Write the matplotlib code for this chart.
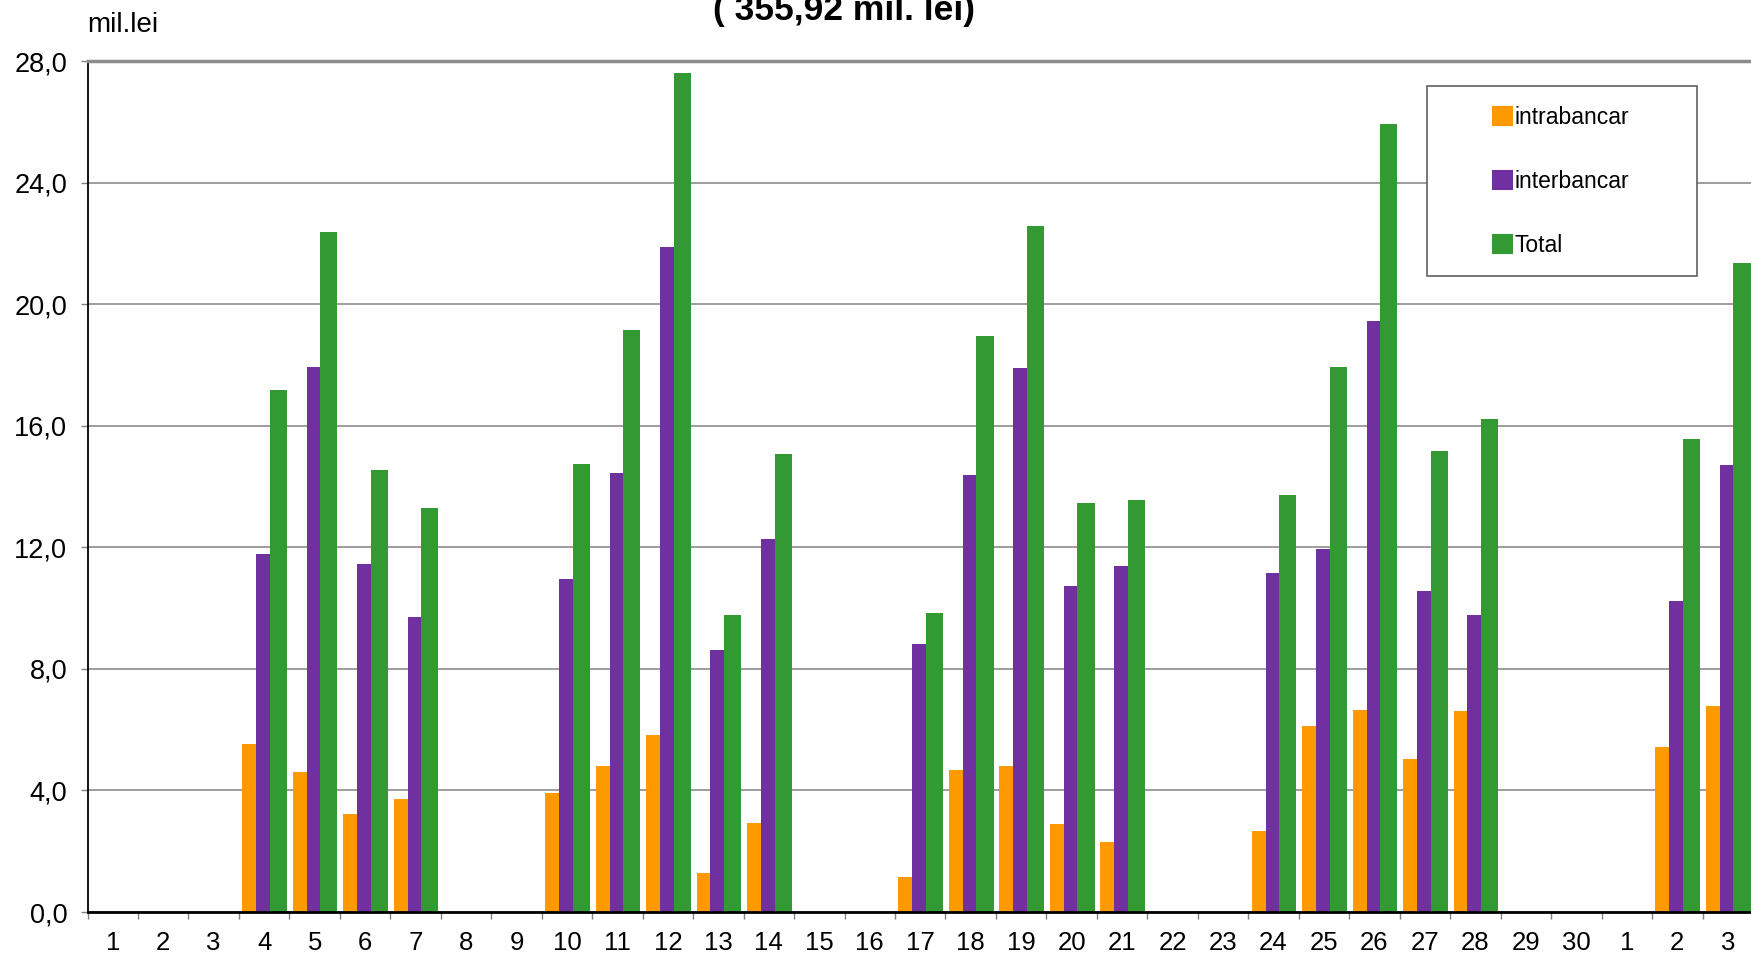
import matplotlib
matplotlib.use('Agg')
import matplotlib.pyplot as plt
import numpy as np
from matplotlib.patches import Rectangle, Patch

plt.rcParams['font.family'] = ['Liberation Sans', 'DejaVu Sans']

days = [str(d) for d in range(1, 31)] + ['1', '2', '3']

intrabancar = [0, 0, 0, 5.54, 4.59, 3.23, 3.71, 0, 0, 3.93, 4.81, 5.83, 1.28, 2.94,
               0, 0, 1.14, 4.66, 4.81, 2.90, 2.31, 0, 0, 2.68, 6.13, 6.64, 5.03, 6.61,
               0, 0, 0, 5.43, 6.79]
interbancar = [0, 0, 0, 11.78, 17.94, 11.45, 9.72, 0, 0, 10.97, 14.46, 21.87, 8.62, 12.26,
               0, 0, 8.81, 14.39, 17.91, 10.72, 11.38, 0, 0, 11.16, 11.93, 19.45, 10.57, 9.76,
               0, 0, 0, 10.24, 14.72]
total = [0, 0, 0, 17.17, 22.39, 14.53, 13.28, 0, 0, 14.75, 19.16, 27.60, 9.76, 15.08,
         0, 0, 9.83, 18.94, 22.57, 13.47, 13.54, 0, 0, 13.72, 17.94, 25.94, 15.16, 16.22,
         0, 0, 0, 15.56, 21.36]

series_names = ['intrabancar', 'interbancar', 'Total']
colors = ['#FF9900', '#7030A0', '#339933']
title = '( 355,92 mil. lei)'
unit_label = 'mil.lei'

W, H = 1751, 956
fig = plt.figure(figsize=(W / 100, H / 100), dpi=100)
left_px, right_px, top_px, bottom_px = 87.5, 1753, 61, 912
ax = fig.add_axes([left_px / W, 1 - bottom_px / H, (right_px - left_px) / W,
                   (bottom_px - top_px) / H])

n = len(days)
x = np.arange(n)
offsets = [0.067, 0.343, 0.613]
widths = [0.276, 0.270, 0.340]
for vals, off, w, c in zip([intrabancar, interbancar, total], offsets, widths, colors):
    v = np.array(vals, dtype=float)
    m = v > 0
    ax.bar(x[m] + off, v[m], width=w, align='edge', color=c, linewidth=0, zorder=2)

ax.set_xlim(0, n)
ax.set_ylim(0, 28)

yt = np.arange(0, 29, 4)
ax.set_yticks(yt)
ax.set_yticklabels([f'{v:.1f}'.replace('.', ',') for v in yt], fontsize=19.5)
ax.tick_params(axis='y', length=5, color='#808080', width=1, pad=9.5)

ax.set_xticks(np.arange(0, n + 1))
ax.set_xticklabels([])
ax.set_xticks(x + 0.5, minor=True)
ax.set_xticklabels(days, minor=True, fontsize=18.5)
ax.tick_params(axis='x', which='major', length=5, color='#808080', width=1)
ax.tick_params(axis='x', which='minor', length=0, pad=14)

ax.yaxis.grid(True, color='#8c8c8c', lw=1.2, zorder=0)
ax.set_axisbelow(True)
ax.spines['right'].set_visible(False)
ax.spines['left'].set_color('black')
ax.spines['left'].set_linewidth(1.3)
ax.spines['bottom'].set_color('black')
ax.spines['bottom'].set_linewidth(2)
ax.spines['top'].set_color('#8c8c8c')
ax.spines['top'].set_linewidth(2.5)

# legend frame
rect = Rectangle((1427 / W, 1 - 276 / H), 270 / W, 190 / H, transform=fig.transFigure,
                 facecolor='white', edgecolor='#606060', lw=1.2, zorder=5)
fig.add_artist(rect)
handles = [Patch(facecolor=c, edgecolor=c, linewidth=1.5, joinstyle='round') for c in colors]
leg = fig.legend(handles, series_names, loc='upper left',
                 bbox_to_anchor=(1493 / W, 1 - 106 / H), frameon=False, fontsize=16.5,
                 handlelength=0.83, handleheight=0.83, handletextpad=0.1,
                 labelspacing=1.78, borderpad=0, borderaxespad=0)
leg.set_zorder(6)

fig.text(844 / W, 1 - 20 / H, title, ha='center', va='baseline', fontsize=25.5,
         fontweight='bold')
fig.text(87 / W, 1 - 32 / H, unit_label, ha='left', va='baseline', fontsize=20)

fig.savefig('out.png', dpi=100)
